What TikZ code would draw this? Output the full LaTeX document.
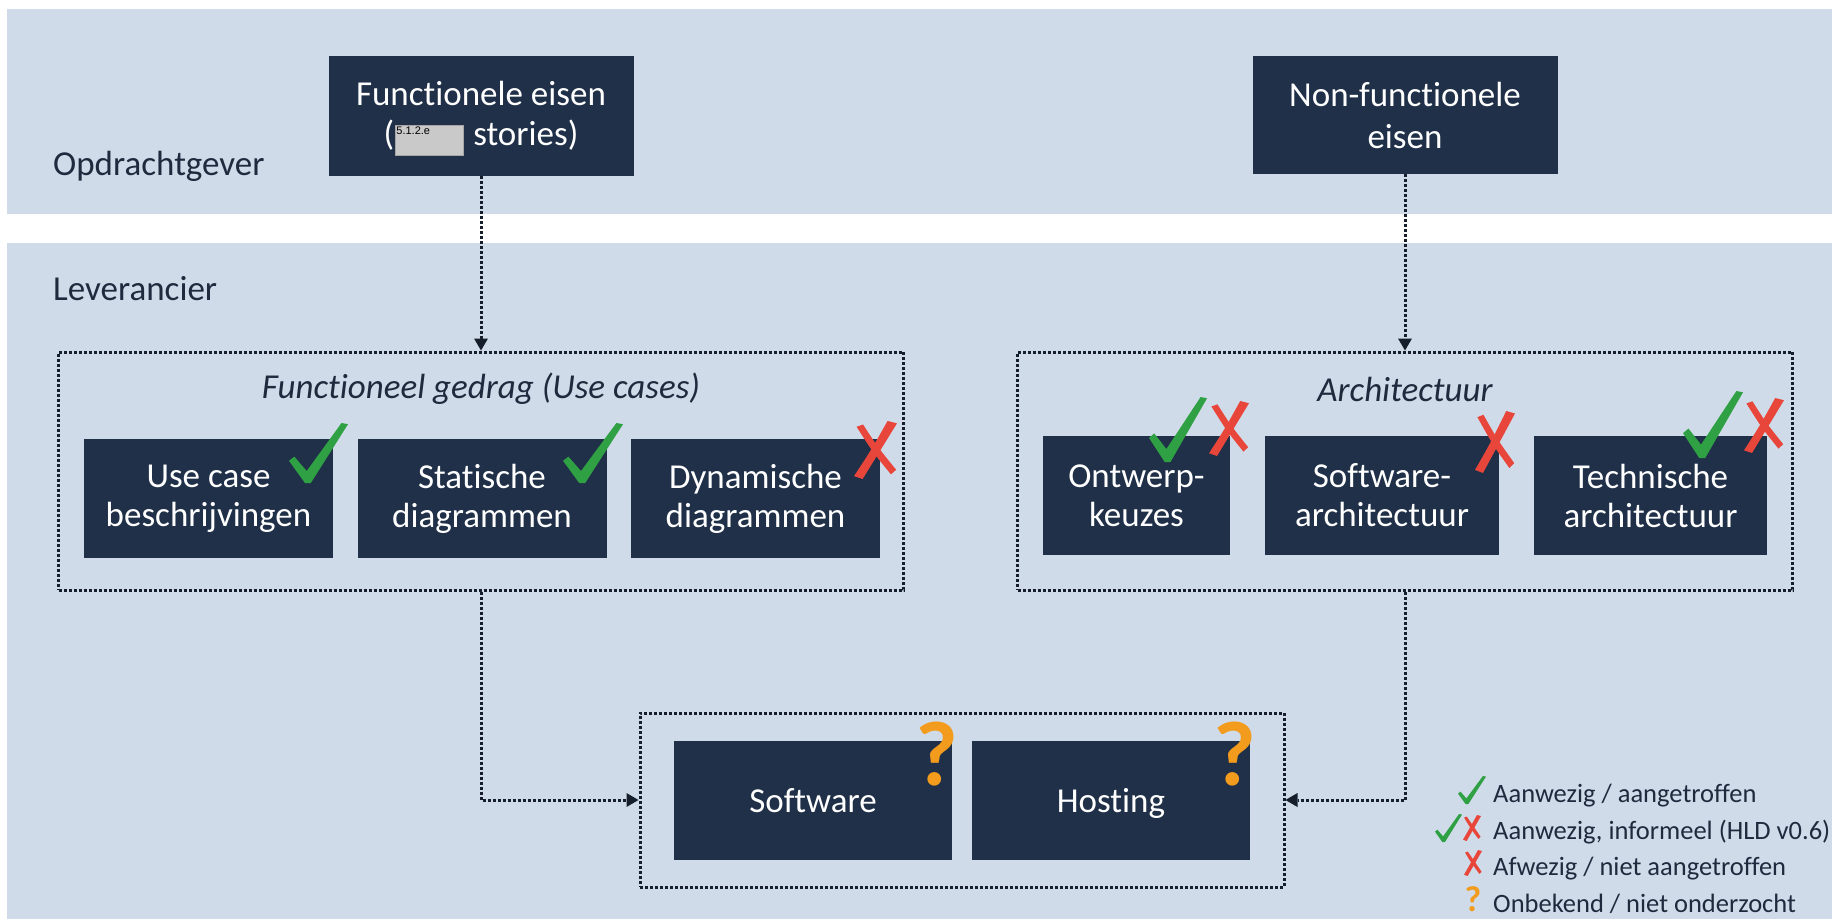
\documentclass[tikz,border=0pt]{standalone}
\usepackage{fontspec}
\setmainfont{Carlito}[Ligatures=NoCommon]
\newfontfamily\arialfont{Liberation Sans}
\usetikzlibrary{arrows.meta}
\definecolor{band}{HTML}{CFDBE8}
\definecolor{navy}{HTML}{1F3048}
\definecolor{ink}{HTML}{1E2B3E}
\definecolor{dotink}{HTML}{161E2C}
\definecolor{okgreen}{HTML}{2FA043}
\definecolor{nored}{HTML}{E8463A}
\definecolor{qorange}{HTML}{F29B1C}
\definecolor{redgray}{HTML}{C9C9C9}
\newcommand\chkmark[4]{\begin{scope}[shift={(#1,#2)},xscale=#3,yscale=#4]
  \fill[okgreen] (0,0.63) -- (0.09,0.56) -- (0.30,0.80) -- (0.89,0.0) -- (1.0,0.02) -- (0.37,1.0) -- (0.27,1.0) -- cycle;
\end{scope}}
\newcommand\xmark[4]{\begin{scope}[shift={(#1,#2)},xscale=#3,yscale=#4]
  \fill[nored] (0.78,0.0) -- (1.0,0.04) .. controls (0.7,0.4) .. (0.20,1.0) -- (0.0,0.95) .. controls (0.4,0.5) .. cycle;
  \fill[nored] (0.06,0.10) -- (0.21,0.06) .. controls (0.55,0.45) .. (0.98,0.84) -- (0.86,0.92) .. controls (0.45,0.55) .. cycle;
\end{scope}}
\begin{document}
\begin{tikzpicture}[x=1pt,y=-1pt,
  navybox/.style={fill=navy, text=white, inner sep=0pt, align=center,
     font=\fontsize{35}{42}\selectfont},
  dotbox/.style={draw=dotink, line width=3pt, dash pattern=on 3pt off 2pt, inner sep=0pt},
  dotarrow/.style={draw=dotink, line width=3pt, dash pattern=on 3pt off 2pt,
     -{Triangle[length=12pt,width=14pt,line width=0pt]}},
  bandlabel/.style={text=ink, inner sep=0pt, font=\fontsize{35}{42}\selectfont},
  grouptitle/.style={text=ink, inner sep=0pt, font=\fontsize{35}{42}\selectfont\itshape},
  legendtext/.style={text=ink, inner sep=0pt, anchor=mid west, font=\fontsize{26.5}{32}\selectfont},
  qmark/.style={text=qorange, inner sep=0pt, font=\fontsize{#1}{#1}\selectfont\bfseries}
]
\useasboundingbox (0,0) rectangle (1832,919);
\fill[white] (0,0) rectangle (1832,919);
% bands
\fill[band] (7,9) rectangle (1832,214);
\fill[band] (7,243) rectangle (1832,919);
\node[bandlabel, anchor=mid west] (opdr) at (53,173) {Opdrachtgever};
\node[bandlabel, anchor=mid west] (lev) at (53,298) {Leverancier};

% top boxes
\node[navybox, minimum width=305pt, minimum height=120pt] (fe) at (481,116)
  {\raisebox{-2pt}{Functionele eisen}\\(\hspace*{79pt}stories)};
\node[fill=redgray, draw=gray!70, line width=0.6pt, minimum width=68pt, minimum height=30pt, inner sep=0pt] (redact) at (429,140) {};
\node[anchor=north west, inner sep=1.5pt, font=\arialfont\fontsize{11}{11}\selectfont] (redtxt) at (redact.north west) {5.1.2.e};
\node[navybox, minimum width=305pt, minimum height=118pt] (nfe) at (1405,115)
  {Non-functionele\\eisen};

% left group
\node[dotbox, minimum width=845pt, minimum height=238pt] (fg) at (481,471) {};
\node[grouptitle] (fgt) at (481,389) {Functioneel gedrag (Use cases)};
\node[navybox, minimum width=249pt, minimum height=119pt] (uc) at (208.5,498.5) {\raisebox{-3pt}{Use case}\\beschrijvingen};
\node[navybox, minimum width=249pt, minimum height=119pt] (sd) at (482,498.5) {\raisebox{-3pt}{Statische}\\diagrammen};
\node[navybox, minimum width=249pt, minimum height=119pt] (dd) at (755.5,498.5) {\raisebox{-3pt}{Dynamische}\\diagrammen};

% right group
\node[dotbox, minimum width=775pt, minimum height=238pt] (arch) at (1405,471) {};
\node[grouptitle] (archt) at (1405,389) {Architectuur};
\node[navybox, minimum width=187pt, minimum height=119pt] (ok) at (1136.5,495.5) {\raisebox{-3pt}{Ontwerp-}\\keuzes};
\node[navybox, minimum width=234pt, minimum height=119pt] (sa) at (1382,495.5) {\raisebox{-3pt}{Software-}\\architectuur};
\node[navybox, minimum width=233pt, minimum height=119pt] (ta) at (1650.5,495.5) {\raisebox{-3pt}{Technische}\\architectuur};

% bottom group
\node[dotbox, minimum width=644pt, minimum height=174pt] (sh) at (962,800) {};
\node[navybox, minimum width=278pt, minimum height=119pt] (sw) at (813,800.5) {\raisebox{0pt}[25pt][2pt]{Software}};
\node[navybox, minimum width=278pt, minimum height=119pt] (ho) at (1111,800.5) {\raisebox{0pt}[25pt][2pt]{Hosting}};

% connectors
\draw[dotarrow] (fe.south) -- (fg.north);
\draw[dotarrow] (nfe.south) -- (arch.north);
\draw[dotarrow] (fg.south) |- (sh.west);
\draw[dotarrow] (arch.south) |- (sh.east);

% marks
\chkmark{289}{423}{59}{60}
\chkmark{563}{423}{60}{60}
\xmark{854}{421}{43}{58}
\chkmark{1149}{397}{58}{65}
\xmark{1209}{401}{40}{55}
\xmark{1475}{411}{40}{62}
\chkmark{1683}{391}{60}{67}
\xmark{1744}{398}{40}{55}
\node[qmark=92, anchor=north east] (q1) at (958,722) {?};
\node[qmark=92, anchor=north east] (q2) at (1256,722) {?};

% legend
\chkmark{1458}{776}{28}{28}
\node[legendtext] (l1) at (1493,800) {Aanwezig / aangetroffen};
\chkmark{1435}{814}{27}{28}
\xmark{1463}{815}{18}{26}
\node[legendtext] (l2) at (1493,837) {Aanwezig, informeel (HLD v0.6)};
\xmark{1464}{850}{18}{26}
\node[legendtext] (l3) at (1493,873) {Afwezig / niet aangetroffen};
\node[qmark=36, anchor=north] (q3) at (1473,886) {?};
\node[legendtext] (l4) at (1493,910) {Onbekend / niet onderzocht};
\end{tikzpicture}
\end{document}
